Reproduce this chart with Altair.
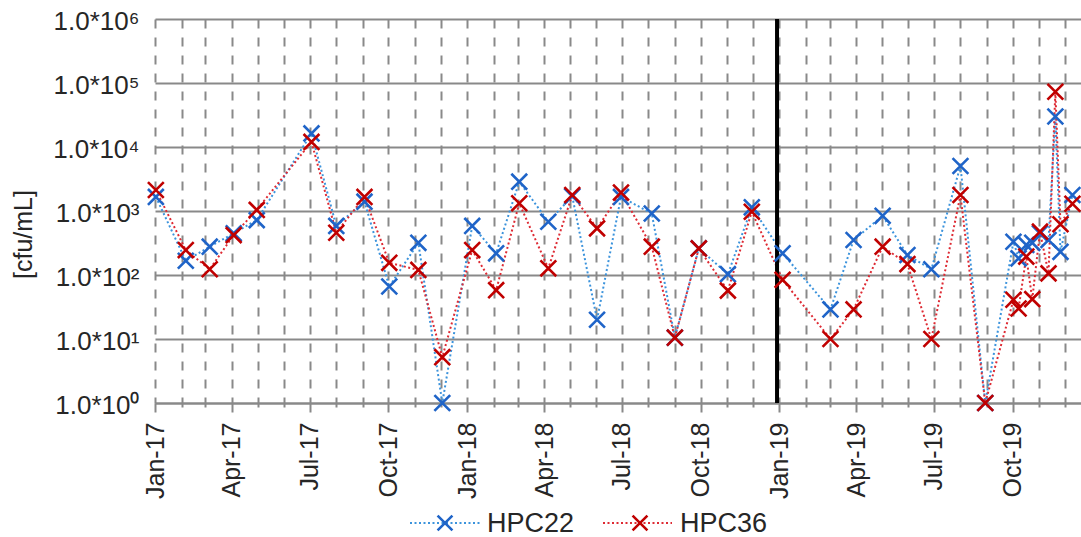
import altair as alt
import pandas as pd

# ---- data ----
dates = [
    "2017-01-02", "2017-02-06", "2017-03-06", "2017-04-03", "2017-04-30",
    "2017-07-03", "2017-08-01", "2017-09-03", "2017-10-02", "2017-11-05",
    "2017-12-03", "2018-01-07", "2018-02-04", "2018-03-03", "2018-04-06",
    "2018-05-04", "2018-06-02", "2018-06-30", "2018-08-05", "2018-09-01",
    "2018-09-29", "2018-11-02", "2018-11-30", "2019-01-05", "2019-03-02",
    "2019-03-29", "2019-05-02", "2019-05-31", "2019-06-28", "2019-08-01",
    "2019-08-30", "2019-10-02", "2019-10-08", "2019-10-17", "2019-10-24",
    "2019-11-02", "2019-11-12", "2019-11-20", "2019-11-26", "2019-12-10",
]
hpc22 = [
    1660, 167, 277, 448, 720,
    16300, 585, 1400, 66, 318,
    1, 585, 218, 2870, 680,
    1700, 20, 1660, 915, 10.5,
    260, 103, 1140, 218, 29,
    352, 840, 205, 123, 5050,
    1, 331, 182, 295, 318,
    448, 352, 30000, 230, 1780,
]
hpc36 = [
    2130, 245, 123, 420, 1040,
    12000, 458, 1660, 155, 120,
    5.2, 245, 58, 1320, 127,
    1780, 535, 1940, 277, 10.5,
    260, 57, 975, 84, 10,
    29, 277, 148, 10, 1780,
    1, 41, 30, 194, 42,
    475, 106, 73000, 620, 1300,
]
series_names = ["HPC22", "HPC36"]
line_colors = ["#3b93dc", "#de2a33"]
marker_colors = ["#1f64c8", "#c00000"]
y_ticks = [1, 10, 100, 1000, 10000, 100000, 1000000]
month_ticks = pd.date_range("2017-01-01", "2019-12-01", freq="MS")
divider_date = ["2018-12-29T12:00:00"]

# ---- build table ----
df = pd.DataFrame({
    "date": pd.to_datetime(dates * 2),
    "value": hpc22 + hpc36,
    "series": [series_names[0]] * len(dates) + [series_names[1]] * len(dates),
})

XPATH = "M-1,-1L1,1M-1,1L1,-1"
FONT = "Liberation Sans"
TXT = "#262626"
GRID = "#898989"

W, H = 926, 384

x_scale = alt.Scale(domain=[alt.DateTime(year=2017, month=1, date=1),
                            alt.DateTime(year=2019, month=12, date=20)])
y_scale = alt.Scale(type="log", domain=[1, 1000000])

x_axis = alt.Axis(
    values=[alt.DateTime(year=int(d.year), month=int(d.month), date=1) for d in month_ticks],
    tickCount=60,
    labelExpr="month(datum.value) % 3 == 0 ? timeFormat(datum.value, '%b-%y') : ''",
    labelAngle=-90, labelFontSize=25, labelFont=FONT, labelColor=TXT,
    labelPadding=10, labelOverlap=False, labelFlush=False, labelBound=False,
    grid=True, gridDash=[9, 9], gridColor=GRID, gridWidth=2,
    domain=True, domainColor=GRID, domainWidth=2,
    ticks=True, tickColor=GRID, tickWidth=2,
    tickSize={"condition": {"test": "month(datum.value) % 3 == 0", "value": 9}, "value": 4},
    title=None,
)
superscripts = "['\u2070','\u00b9','\u00b2','\u00b3','\u2074','\u2075','\u2076']"
y_axis = alt.Axis(
    values=y_ticks,
    labelExpr="'1.0*10' + " + superscripts + "[round(log(datum.value)/LN10)]",
    labelFontSize=26, labelFont=FONT, labelColor=TXT, labelPadding=16,
    labelOffset=2,
    grid=True, gridColor=GRID, gridWidth=2, gridDash=[1, 0],
    domain=False, ticks=False,
    title="[cfu/mL]", titleFont=FONT, titleFontSize=25, titleFontWeight="normal",
    titleColor=TXT, titleX=-132, titleY=215, titleAngle=270,
    titleBaseline="middle", titleAlign="center",
)

base = alt.Chart(df)
lines = base.mark_line(strokeDash=[2, 2.5], strokeWidth=2).encode(
    x=alt.X("date:T", scale=x_scale, axis=x_axis),
    y=alt.Y("value:Q", scale=y_scale, axis=y_axis),
    color=alt.Color("series:N", scale=alt.Scale(domain=series_names, range=line_colors), legend=None),
    detail="series:N",
)
points = base.mark_point(shape=XPATH, filled=False, size=250, strokeWidth=2.6, opacity=1).encode(
    x=alt.X("date:T", scale=x_scale),
    y=alt.Y("value:Q", scale=y_scale),
    stroke=alt.Stroke("series:N", scale=alt.Scale(domain=series_names, range=marker_colors), legend=None),
)
divider = alt.Chart(pd.DataFrame({"date": pd.to_datetime(divider_date)})).mark_rule(
    color="black", strokeWidth=4
).encode(x=alt.X("date:T", scale=x_scale), y=alt.value(0), y2=alt.value(H))

# ---- manual legend below the plot ----
leg_y = 504
leg_specs = [(255, 325, 290, 332), (448, 517, 485, 525)]
legend_layers = []
for i, name in enumerate(series_names):
    lx0, lx1, px, tx = leg_specs[i]
    ld = pd.DataFrame({"series": [name]})
    legend_layers.append(
        alt.Chart(ld).mark_rule(strokeDash=[2, 2.5], strokeWidth=2, color=line_colors[i]).encode(
            x=alt.value(lx0), x2=alt.value(lx1), y=alt.value(leg_y))
    )
    legend_layers.append(
        alt.Chart(ld).mark_point(shape=XPATH, filled=False, size=220, strokeWidth=2.6,
                                 opacity=1, color=marker_colors[i]).encode(
            x=alt.value(px), y=alt.value(leg_y))
    )
    legend_layers.append(
        alt.Chart(ld).mark_text(align="left", baseline="middle", fontSize=27, font=FONT,
                                color=TXT).encode(
            x=alt.value(tx), y=alt.value(leg_y + 1), text="series:N")
    )

chart = alt.layer(lines, divider, points, *legend_layers).properties(
    width=W, height=H,
    autosize=alt.AutoSizeParams(type="none"),
    padding={"left": 155, "top": 19, "right": 0, "bottom": 134},
    background="white",
).configure_view(stroke=None)

chart.save("out.html", embed_options={"renderer": "svg", "actions": False})
